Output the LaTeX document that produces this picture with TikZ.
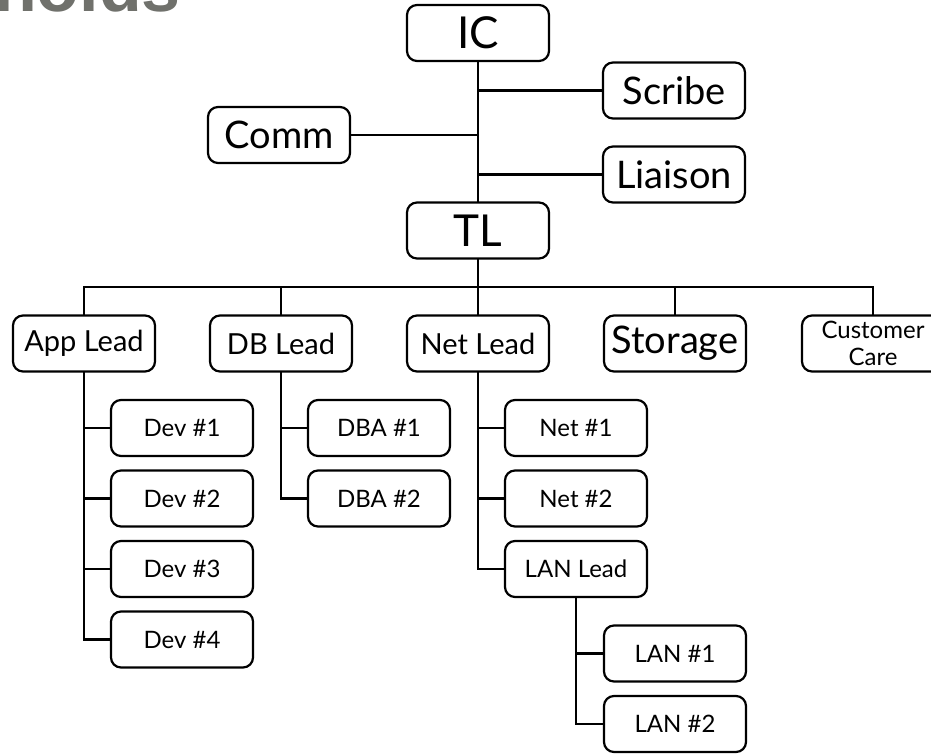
\documentclass[tikz,border=0pt]{standalone}
\usepackage{fontspec}
\setmainfont{Lato}
\newfontfamily\titlefont{Liberation Sans}
\definecolor{titlegray}{RGB}{112,113,108}
\tikzset{
  role/.style={draw, line width=2.2pt, rounded corners=10pt, fill=white,
    minimum width=142pt, minimum height=56pt, inner sep=0pt, text=black},
  huge/.style={font=\fontsize{44}{48}\selectfont},
  big/.style={font=\fontsize{38}{42}\selectfont},
  mid/.style={font=\fontsize{29}{32}\selectfont},
  small/.style={font=\fontsize{24}{28}\selectfont},
  tiny/.style={font=\fontsize{24}{27}\selectfont, align=center},
  link/.style={line width=2.2pt, line cap=rect}
}
\begin{document}
\begin{tikzpicture}[x=1pt, y=-1pt]
\useasboundingbox (0,0) rectangle (931,754);
\clip (0,0) rectangle (931,754);
\fill[white] (0,0) rectangle (931,754);

% slide title, mostly above the page edge
\node[anchor=base west, inner sep=0pt, text=titlegray,
      font=\titlefont\bfseries\fontsize{70}{80}\selectfont] (title) at (-6,12) {holds};

% command staff
\node[role, huge] (ic) at (478,33) {IC};
\node[role, big] (scribe) at (674,90.5) {Scribe};
\node[role, big] (liaison) at (674,174.5) {Liaison};
\node[role, big] (comm) at (279,135) {Comm};
\node[role, huge] (tl) at (478,230.5) {TL};

% leads
\node[role, mid] (app) at (84,343.5) {App Lead};
\node[role, mid] (db) at (281,343.5) {DB Lead};
\node[role, mid] (net) at (478,343.5) {Net Lead};
\node[role, big] (storage) at (675,343.5) {Storage};
\node[role, tiny] (care) at (873,343.5) {Customer\\Care};

% developers
\node[role, small] (dev1) at (182,428) {Dev \#1};
\node[role, small] (dev2) at (182,498.5) {Dev \#2};
\node[role, small] (dev3) at (182,569) {Dev \#3};
\node[role, small] (dev4) at (182,639.5) {Dev \#4};

% database admins
\node[role, small] (dba1) at (379,428) {DBA \#1};
\node[role, small] (dba2) at (379,498.5) {DBA \#2};

% network
\node[role, small] (net1) at (576,428) {Net \#1};
\node[role, small] (net2) at (576,498.5) {Net \#2};
\node[role, small] (lanlead) at (576,569) {LAN Lead};
\node[role, small] (lan1) at (675,653.5) {LAN \#1};
\node[role, small] (lan2) at (675,724) {LAN \#2};

% bus joining the leads
\coordinate (bus) at (478,287);

% connectors
\draw[link] (ic.south) -- (tl.north);
\draw[link] (ic.south |- scribe.west) -- (scribe.west);
\draw[link] (ic.south |- liaison.west) -- (liaison.west);
\draw[link] (comm.east) -- (ic.south |- comm.east);
\draw[link] (tl.south) -- (bus);
\draw[link] (app.north) |- (bus) -| (care.north);
\draw[link] (db.north) -- (db.north |- bus);
\draw[link] (net.north) -- (net.north |- bus);
\draw[link] (storage.north) -- (storage.north |- bus);

\draw[link] (app.south) |- (dev4.west);
\foreach \n in {dev1,dev2,dev3} \draw[link] (app.south |- \n.west) -- (\n.west);
\draw[link] (db.south) |- (dba2.west);
\draw[link] (db.south |- dba1.west) -- (dba1.west);
\draw[link] (net.south) |- (lanlead.west);
\foreach \n in {net1,net2} \draw[link] (net.south |- \n.west) -- (\n.west);
\draw[link] (lanlead.south) |- (lan2.west);
\draw[link] (lanlead.south |- lan1.west) -- (lan1.west);
\end{tikzpicture}
\end{document}
